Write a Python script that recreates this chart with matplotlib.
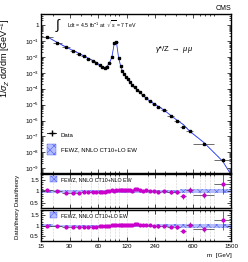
import numpy as np
import matplotlib
matplotlib.use("Agg")
import matplotlib.pyplot as plt
from matplotlib.patches import Patch
from matplotlib.lines import Line2D
from matplotlib.ticker import FixedLocator, NullFormatter, LogLocator

plt.rcParams['font.family'] = ['Liberation Sans', 'DejaVu Sans']
plt.rcParams['mathtext.fontset'] = 'custom'
plt.rcParams['mathtext.rm'] = 'Liberation Sans'
plt.rcParams['mathtext.it'] = 'Liberation Sans:italic'

# mass bin edges [GeV]
edges = [15, 20, 25, 30, 35, 40, 45, 50, 55, 60, 64, 68, 72, 76, 81, 86, 91, 96,
         101, 106, 110, 115, 120, 126, 133, 141, 150, 160, 171, 185, 200, 220,
         243, 273, 320, 380, 440, 510, 600, 1000, 1500]

# 1/sigma_Z dsigma/dm [GeV^-1]
xsec = [0.19, 0.080, 0.040, 0.024, 0.016, 0.011, 0.0078, 0.0057, 0.0043, 0.0030,
        0.0023, 0.0021, 0.0025, 0.0040, 0.0095, 0.070, 0.085, 0.0090, 0.0028,
        0.0013, 8.5e-4, 5.8e-4, 4.0e-4, 2.7e-4, 1.8e-4, 1.25e-4, 8.8e-5, 6.0e-5,
        4.0e-5, 2.6e-5, 1.7e-5, 1.15e-5, 7.5e-6, 4.5e-6, 2.0e-6, 9.5e-7, 4.2e-7,
        2.2e-7, 3.5e-8, 3.5e-9]

# data/theory, NNLO CT10 + NLO EW
ratio_nlo = [1.04, 1.0, 0.94, 0.95, 0.95, 0.96, 0.96, 0.97, 0.97, 0.98,
             0.98, 0.99, 1.0, 1.02, 1.04, 1.03, 1.04, 1.05, 1.06, 1.05,
             1.06, 1.04, 1.07, 1.05, 1.03, 1.08, 1.1, 1.06, 1.03, 1.04,
             1.02, 1.0, 0.98, 1.0, 0.97, 0.96, 0.78, 1.06, 0.84, 1.33]
# data/theory, NNLO CT10 + LO EW
ratio_lo = [1.01, 1.0, 0.94, 0.94, 0.94, 0.95, 0.95, 0.96, 0.96, 0.97,
            0.97, 0.98, 0.99, 1.01, 1.03, 1.03, 1.04, 1.05, 1.05, 1.05,
            1.06, 1.04, 1.06, 1.05, 1.03, 1.08, 1.09, 1.06, 1.03, 1.04,
            1.02, 1.0, 0.97, 0.99, 0.96, 0.95, 0.76, 1.05, 0.83, 1.26]
ratio_err = [0.08, 0.05, 0.04, 0.04, 0.04, 0.04, 0.04, 0.04, 0.04, 0.04,
             0.04, 0.04, 0.04, 0.04, 0.04, 0.03, 0.03, 0.04, 0.04, 0.04,
             0.04, 0.04, 0.04, 0.04, 0.04, 0.04, 0.04, 0.04, 0.04, 0.05,
             0.05, 0.05, 0.06, 0.06, 0.07, 0.09, 0.10, 0.12, 0.13, 0.45]
# theory uncertainty band half width (relative)
band = [0.07, 0.06, 0.06, 0.06, 0.06, 0.06, 0.06, 0.06, 0.06, 0.06,
        0.06, 0.06, 0.06, 0.06, 0.06, 0.06, 0.06, 0.06, 0.06, 0.06,
        0.06, 0.06, 0.06, 0.06, 0.06, 0.06, 0.06, 0.06, 0.06, 0.06,
        0.06, 0.06, 0.07, 0.07, 0.07, 0.07, 0.08, 0.08, 0.08, 0.09]
theory_tail = 4.0e-10  # theory curve value at 1500 GeV

edges = np.array(edges, float)
lo, hi = edges[:-1], edges[1:]
centers = np.sqrt(lo * hi)
xsec = np.array(xsec)
ratio_nlo = np.array(ratio_nlo)
ratio_lo = np.array(ratio_lo)
ratio_err = np.array(ratio_err)
band = np.array(band)
theory = xsec / ratio_lo

W, H = 248, 262
fig = plt.figure(figsize=(W / 100, H / 100), dpi=100)
L, R = 41 / W, 190 / W
ax = fig.add_axes([L, 1 - 173 / H, R, 159 / H])
ax1 = fig.add_axes([L, 1 - 208 / H, R, 34 / H])
ax2 = fig.add_axes([L, 1 - 241 / H, R, 31 / H])

blue = '#3344ee'
band_face = '#b4bcff'
hatch_col = '#4a5cf5'
plt.rcParams['hatch.linewidth'] = 0.4

# main panel
tx = np.append(centers, 1500)
ty = np.append(theory, theory_tail)
ax.fill_between(tx, ty * 0.93, ty * 1.07, facecolor=band_face, edgecolor=hatch_col,
                hatch='xxxx', linewidth=0)
ax.plot(tx, ty, color=blue, lw=0.6)
ax.errorbar(centers, xsec, xerr=[centers - lo, hi - centers], yerr=xsec * ratio_err * 0.5,
            fmt='s', ms=1.6, color='black', ecolor='#333333', elinewidth=0.5, capsize=0)

ax.set_xscale('log')
ax.set_yscale('log')
ax.set_xlim(15, 1500)
ax.set_ylim(10 ** -9.3, 10 ** 0.7)
ax.yaxis.set_major_locator(LogLocator(base=10, numticks=20))
ax.yaxis.set_minor_locator(LogLocator(base=10, subs=np.arange(2, 10), numticks=20))
ax.set_yticks([10.0 ** k for k in range(-9, 1)])
ax.set_yticklabels(['$10^{-%d}$' % k for k in range(9, 0, -1)] + ['1'])
ax.set_ylabel(r'1/$\sigma_Z$ d$\sigma$/dm [GeV$^{-1}$]', fontsize=6.5)
ax.yaxis.set_label_coords(-0.15, 0.72)

for a in (ax, ax1, ax2):
    a.set_xscale('log')
    a.set_xlim(15, 1500)
    a.xaxis.set_major_locator(FixedLocator([15, 30, 60, 120, 240, 600, 1500]))
    a.xaxis.set_minor_locator(LogLocator(base=10, subs=np.arange(1, 10), numticks=20))
    a.xaxis.set_minor_formatter(NullFormatter())
    a.tick_params(which='both', direction='in', top=True, right=True,
                  labelsize=4.5, pad=1.5, width=0.5)
    a.tick_params(which='major', length=3)
    a.tick_params(which='minor', length=1.6)
    for s in a.spines.values():
        s.set_linewidth(1.0)

ax.xaxis.set_major_formatter(NullFormatter())
ax1.xaxis.set_major_formatter(NullFormatter())

legend_main = [
    Line2D([0], [0], color='black', marker='+', ms=5, lw=0.6),
    Patch(facecolor=band_face, edgecolor=hatch_col, hatch='xxxx', linewidth=0.3),
]
ax.legend(legend_main, ['Data', 'FEWZ, NNLO CT10+LO EW'], loc='lower left',
          bbox_to_anchor=(0.01, 0.09), frameon=False, fontsize=4.3,
          handlelength=1.5, handleheight=2.4, labelspacing=0.6, borderpad=0.2)

ax.text(0.075, 0.925, r'$\int$', transform=ax.transAxes, fontsize=10, va='center')
ax.text(0.135, 0.93, r'Ldt = 4.5 fb$^{-1}$ at  $\sqrt{s}$ = 7 TeV',
        transform=ax.transAxes, fontsize=3.8, va='center')
ax.text(0.6, 0.775, r'$\gamma$*/Z $\rightarrow$ $\mu\mu$', transform=ax.transAxes,
        fontsize=5.5, va='center')
ax.text(1.0, 1.015, 'CMS', transform=ax.transAxes, fontsize=5, ha='right', va='bottom')

# ratio panels
for a, r, lab in ((ax1, ratio_nlo, 'FEWZ, NNLO CT10+NLO EW'),
                  (ax2, ratio_lo, 'FEWZ, NNLO CT10+LO EW')):
    a.grid(True, which='both', axis='x', color='#aaaaaa', ls=':', lw=0.4)
    a.fill_between(edges, np.append(1 - band, 1 - band[-1]), np.append(1 + band, 1 + band[-1]),
                   step='post', facecolor=band_face, edgecolor=hatch_col,
                   hatch='xxxx', linewidth=0)
    a.errorbar(centers, r, xerr=[centers - lo, hi - centers], yerr=ratio_err,
               fmt='o', ms=2.0, mfc='#cc00cc', mec='#cc00cc', ecolor='#333333',
               elinewidth=0.5, capsize=0)
    a.set_ylim(0.28, 1.75)
    a.set_yticks([0.5, 1, 1.5])
    a.set_yticklabels(['0.5', '1', '1.5'])
    a.yaxis.set_minor_locator(FixedLocator(np.arange(0.3, 1.75, 0.1)))
    a.legend([Patch(facecolor=band_face, edgecolor=hatch_col, hatch='xxxx', linewidth=0.3)],
             [lab], loc='upper left', bbox_to_anchor=(0.03, 1.04), frameon=False,
             fontsize=3.8, handlelength=1.2, handleheight=1.3, borderpad=0.2)

ax2.set_xticklabels(['15', '30', '60', '120', '240', '600', '1500'])
ax2.tick_params(axis='x', pad=2)
fig.text(232 / W, 1 - 256 / H, 'm  [GeV]', fontsize=4.5, ha='right', va='center')
fig.text(17 / W, 1 - 207 / H, 'Data/theory Data/theory', fontsize=4.3, rotation=90,
         ha='center', va='center')

fig.savefig('out.png', dpi=100)
